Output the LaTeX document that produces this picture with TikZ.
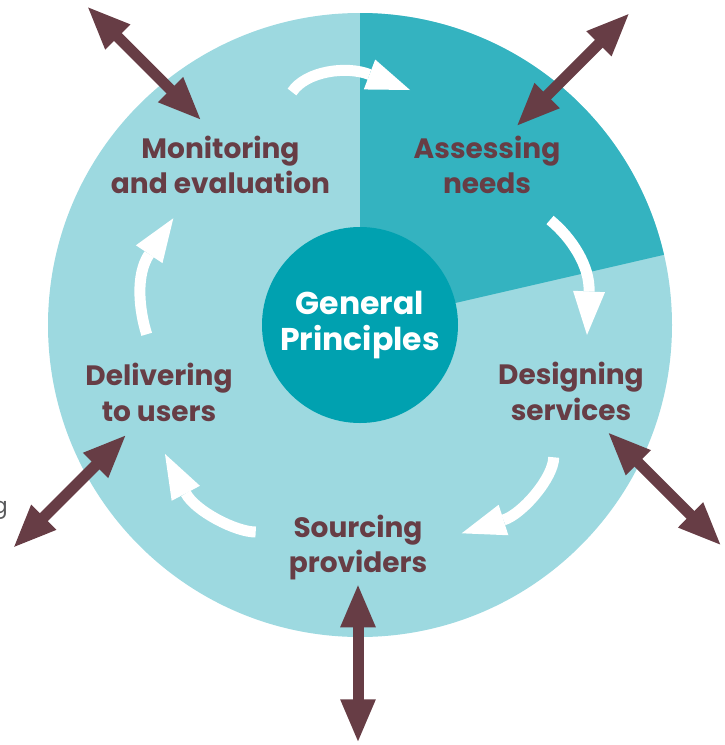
\documentclass[tikz,border=0pt]{standalone}
\usepackage{fontspec}
\setmainfont{Poppins}
\usetikzlibrary{arrows.meta,calc}
\definecolor{lightteal}{HTML}{9DD9E0}
\definecolor{midteal}{HTML}{34B3C0}
\definecolor{darkteal}{HTML}{00A1B0}
\definecolor{wine}{HTML}{673D45}
\definecolor{greytext}{HTML}{58595B}
\begin{document}
\begin{tikzpicture}[x=1pt,y=-1pt,
  stagelabel/.style={text=wine, font=\bfseries\fontsize{28}{35.5}\selectfont, align=center, inner sep=0pt},
  twoway/.style={draw=wine, line width=11pt, {Triangle[length=44pt,width=32pt]}-{Triangle[length=44pt,width=32pt]}},
  cycleshaft/.style={draw=white, line width=11pt},
  cyclehead/.style={fill=white}]
\useasboundingbox (0,0) rectangle (725,745);
\clip (0,0) rectangle (725,745);
% rings
\fill[lightteal] (360,325) circle[radius=312];
\fill[midteal] (360,325) -- (360,13) arc[start angle=-90, end angle=-13, radius=312] -- cycle;
\node[circle, fill=darkteal, minimum size=196pt, inner sep=0pt, text=white,
      font=\bfseries\fontsize{31.5}{36}\selectfont, align=center] (gp) at (360,325) {General\\Principles};
% stage labels
\node[stagelabel] (mon) at (220.5,165) {Monitoring\\and evaluation};
\node[stagelabel] (ass) at (487,165) {Assessing\\needs};
\node[stagelabel] (des) at (571,391.5) {Designing\\services};
\node[stagelabel] (src) at (358,547.5) {Sourcing\\providers};
\node[stagelabel] (del) at (159,392.5) {Delivering\\to users};
% cropped fragment at left edge
\node[anchor=base east, text=greytext, font=\fontsize{22}{24}\selectfont, inner sep=0pt] (gfrag) at (8,513) {g};
% two-way arrows
\coordinate (monin) at (201.7,120.7); \coordinate (monout) at (86.7,6);
\coordinate (assin) at (516,126.7);   \coordinate (assout) at (630,12.7);
\coordinate (desin) at (607.3,431.7); \coordinate (desout) at (721.7,546);
\coordinate (srcin) at (358,583.3);   \coordinate (srcout) at (358,743.3);
\coordinate (delin) at (126.7,434.3); \coordinate (delout) at (12.7,548.3);
\draw[twoway] (monout) -- (monin);
\draw[twoway] (assout) -- (assin);
\draw[twoway] (desout) -- (desin);
\draw[twoway] (srcout) -- (srcin);
\draw[twoway] (delout) -- (delin);
% cycle arrows: tail T, head base B, tip P
\coordinate (t1) at (292,92);      \coordinate (b1) at (369.5,74.5); \coordinate (p1) at (410,90);
\coordinate (t2) at (550,220);     \coordinate (b2) at (589,291.5);  \coordinate (p2) at (587,335);
\coordinate (t3) at (553.7,457.3); \coordinate (b3) at (503.5,520);  \coordinate (p3) at (461.7,533.3);
\coordinate (t4) at (255.7,532);   \coordinate (b4) at (185.8,493.3);\coordinate (p4) at (165,454);
\coordinate (t5) at (146.7,334.3); \coordinate (b5) at (149.2,254.2);\coordinate (p5) at (173.3,218.3);
\draw[cycleshaft] (t1) .. controls +(14,-21) and +(-23,-9) .. (b1);
\draw[cycleshaft] (t2) .. controls +(21.6,17.6) and +(1.25,-25) .. (b2);
\draw[cycleshaft] (t3) .. controls +(0,20) and +(19,-6) .. (b3);
\draw[cycleshaft] (t4) .. controls +(-20,0) and +(9.4,17.7) .. (b4);
\draw[cycleshaft] (t5) .. controls +(-7.5,-23.8) and +(-14,20.8) .. (b5);
\foreach \i in {1,...,5}{
  \fill[cyclehead] (p\i) -- ($(b\i)!16pt!90:(p\i)$) -- ($(b\i)!16pt!-90:(p\i)$) -- cycle;
}
\end{tikzpicture}
\end{document}
